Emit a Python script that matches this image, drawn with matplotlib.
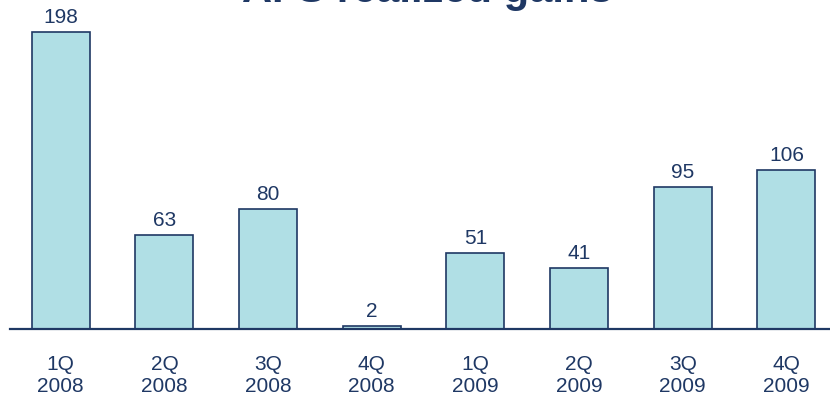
import matplotlib.pyplot as plt

plt.rcParams['font.family'] = ['Liberation Sans', 'DejaVu Sans']

quarters = ['1Q\n2008', '2Q\n2008', '3Q\n2008', '4Q\n2008',
            '1Q\n2009', '2Q\n2009', '3Q\n2009', '4Q\n2009']
gains = [198, 63, 80, 2, 51, 41, 95, 106]

navy = '#1F3864'
fill = '#B0DFE5'

fig = plt.figure(figsize=(8.3, 4.02), dpi=100)
ax = fig.add_axes([10 / 830, 1 - 330 / 402, 820 / 830, 330 / 402])

x = range(len(gains))
bars = ax.bar(x, gains, width=0.56, color=fill, edgecolor=navy, linewidth=1.2)
for xi, v in zip(x, gains):
    ax.annotate(str(v), (xi, v), xytext=(0, 4), textcoords='offset points',
                ha='center', va='bottom', fontsize=15, color=navy)

ax.set_xlim(-0.49, 7.42)
ax.set_ylim(0, 220)
ax.set_xticks(list(x))
ax.set_xticklabels(quarters, fontsize=15, color=navy, linespacing=1.2)
ax.tick_params(axis='x', length=0, pad=18)
ax.set_yticks([])
for s in ['top', 'right', 'left']:
    ax.spines[s].set_visible(False)
ax.spines['bottom'].set_color(navy)
ax.spines['bottom'].set_linewidth(1.6)

fig.text(427 / 830, 1 - 2 / 402, 'AFS realized gains', ha='center', va='baseline',
         fontsize=30, fontweight='bold', color=navy)

fig.savefig('out.png', dpi=100)
